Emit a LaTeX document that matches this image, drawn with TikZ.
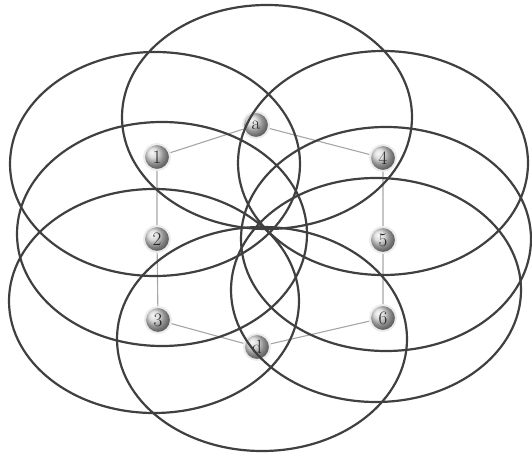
\documentclass[tikz,border=0pt]{standalone}
\usepackage{fontspec}
\usetikzlibrary{backgrounds}

\begin{document}
\begin{tikzpicture}[x=1pt,y=-1pt,
  ring/.style={draw=black!75,line width=2.2pt},
  vertex/.style={circle,minimum size=26pt,inner sep=0pt,shading=ball,ball color=black!18,
    draw=black!8,line width=2pt,text=black!85,font=\fontsize{19}{19}\selectfont},
  link/.style={draw=black!35,line width=1.1pt}]
\useasboundingbox (0,0) rectangle (532,457);
% vertices
\node[vertex] (a) at (256,125) {a};
\node[vertex] (n1) at (157,157) {\oldstylenums{1}};
\node[vertex] (n2) at (157,239) {\oldstylenums{2}};
\node[vertex] (n3) at (158,320) {\oldstylenums{3}};
\node[vertex] (n4) at (383,158) {\oldstylenums{4}};
\node[vertex] (n5) at (383,240) {\oldstylenums{5}};
\node[vertex] (n6) at (383,318) {\oldstylenums{6}};
\node[vertex] (d) at (257,347) {d};
% links
\begin{scope}[on background layer]
\draw[link] (a) -- (n1) -- (n2) -- (n3) -- (d);
\draw[link] (a) -- (n4) -- (n5) -- (n6) -- (d);
\end{scope}
% rings
\draw[ring] (267,117) ellipse (145 and 112);
\draw[ring] (155,164) ellipse (145 and 112);
\draw[ring] (162,234) ellipse (145 and 112);
\draw[ring] (154,301) ellipse (145 and 112);
\draw[ring] (383,163) ellipse (145 and 112);
\draw[ring] (386,239) ellipse (145 and 112);
\draw[ring] (376,290) ellipse (145 and 112);
\draw[ring] (262,339) ellipse (145 and 112);
\end{tikzpicture}
\end{document}
